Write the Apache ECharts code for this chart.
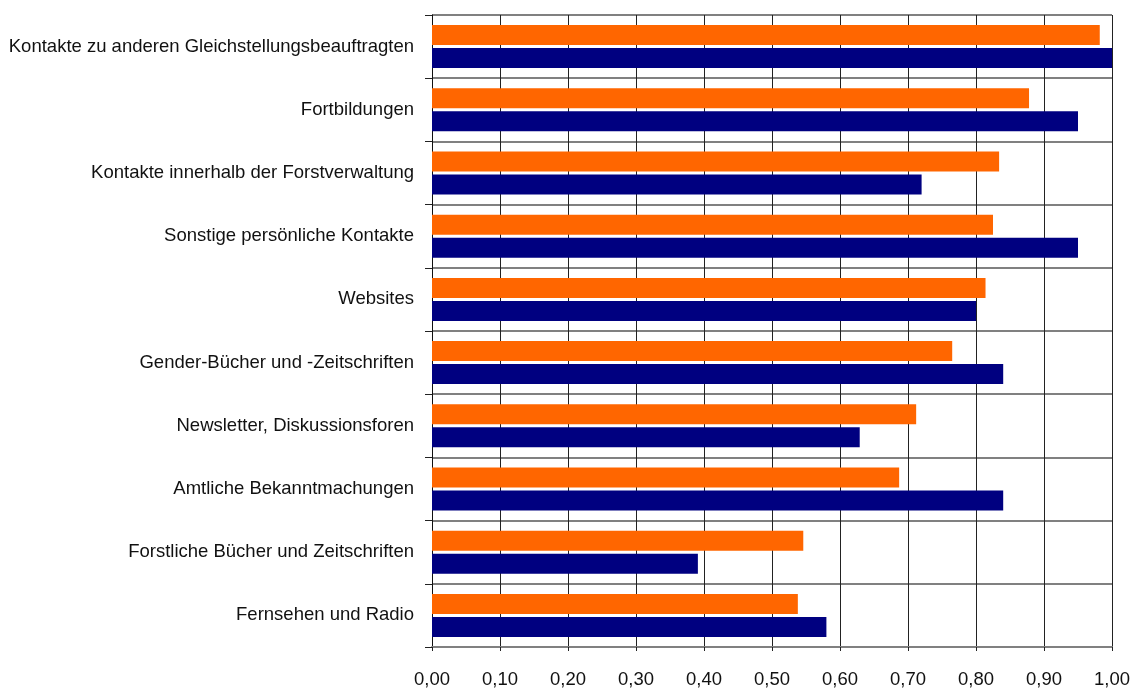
<!DOCTYPE html>
<html>
<head>
<meta charset="utf-8">
<script src="https://cdn.jsdelivr.net/npm/echarts@6/dist/echarts.min.js"></script>
<style>
  html, body { margin: 0; padding: 0; background: #fff; }
  #chart { width: 1136px; height: 691px; }
</style>
</head>
<body>
<div id="chart"></div>
<script>
// Kategorien von oben nach unten
const categories = [
  'Kontakte zu anderen Gleichstellungsbeauftragten',
  'Fortbildungen',
  'Kontakte innerhalb der Forstverwaltung',
  'Sonstige persönliche Kontakte',
  'Websites',
  'Gender-Bücher und -Zeitschriften',
  'Newsletter, Diskussionsforen',
  'Amtliche Bekanntmachungen',
  'Forstliche Bücher und Zeitschriften',
  'Fernsehen und Radio'
];
// orange Balken (oben)
const orangeValues = [0.982, 0.878, 0.834, 0.825, 0.814, 0.765, 0.712, 0.687, 0.546, 0.538];
// blaue Balken (unten)
const navyValues = [1.00, 0.950, 0.720, 0.950, 0.800, 0.840, 0.629, 0.840, 0.391, 0.580];

const fontFamily = '"Liberation Sans", Arial, sans-serif';

const chart = echarts.init(document.getElementById('chart'));
const option = {
  animation: false,
  grid: { left: 432, right: 24, top: 15, bottom: 44, outerBoundsMode: 'none', containLabel: false },
  xAxis: {
    type: 'value',
    min: 0,
    max: 1,
    interval: 0.1,
    axisLine: { show: true, lineStyle: { color: '#808080', width: 2 } },
    axisTick: { show: true, length: 4, lineStyle: { color: '#222' } },
    axisLabel: {
      margin: 23,
      color: '#111',
      fontFamily: fontFamily,
      fontSize: 18.5,
      formatter: v => v.toFixed(2).replace('.', ',')
    },
    splitLine: { show: true, lineStyle: { color: '#222', width: 1 } }
  },
  yAxis: {
    type: 'category',
    inverse: true,
    data: categories,
    axisLine: { show: true, lineStyle: { color: '#111', width: 1 } },
    axisTick: { show: true, length: 7, lineStyle: { color: '#222' } },
    axisLabel: {
      margin: 18,
      color: '#111',
      fontFamily: fontFamily,
      fontSize: 18.5
    },
    splitLine: { show: true, lineStyle: { color: '#808080', width: 2 } }
  },
  series: [
    {
      type: 'bar',
      data: orangeValues,
      barWidth: 20,
      barGap: '15%',
      itemStyle: { color: '#FF6600' }
    },
    {
      type: 'bar',
      data: navyValues,
      barWidth: 20,
      barGap: '15%',
      itemStyle: { color: '#000080' }
    }
  ]
};
chart.setOption(option);
</script>
</body>
</html>
